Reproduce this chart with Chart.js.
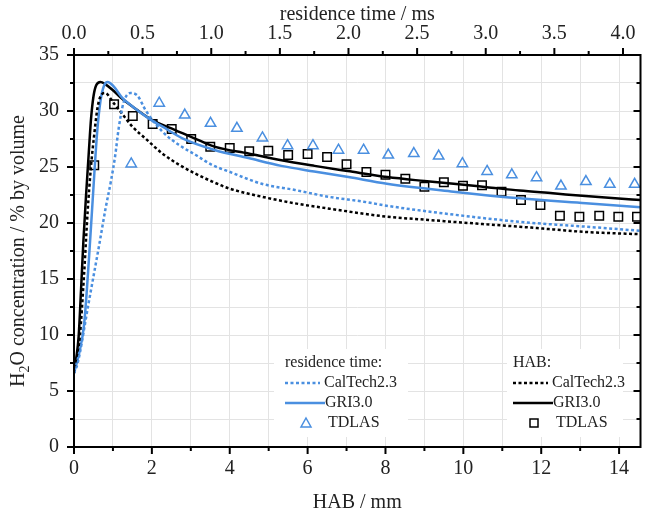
<!DOCTYPE html>
<html>
<head>
<meta charset="utf-8">
<script src="https://cdn.jsdelivr.net/npm/chart.js@4.4.1/dist/chart.umd.min.js"></script>
<style>
  html, body { margin: 0; padding: 0; background: #fff; }
</style>
</head>
<body>
<canvas id="grafico" width="648" height="515"></canvas>
<script>
// HAB axis (bottom, mm) and residence time axis (top, ms)
const habMax = 14.55;
const mmPerMs = 3.525;

// HAB: GRI3.0 (black solid)
const habGriX = [0, 0.06, 0.12, 0.18, 0.24, 0.31, 0.38, 0.44, 0.5, 0.57, 0.68, 0.8, 0.985, 1.2, 1.5, 2.0, 2.6, 3.2, 3.63, 4.48, 5.33, 6.18, 7.03, 8.05, 9.0, 9.75, 10.6, 11.44, 12.3, 13.14, 13.9, 14.55];
const habGriY = [6.7, 8.0, 9.9, 14.0, 18.3, 22.5, 26.3, 29.4, 31.3, 32.3, 32.6, 32.4, 31.9, 31.2, 30.4, 29.2, 28.3, 27.4, 26.8, 26.2, 25.6, 25.1, 24.64, 24.1, 23.75, 23.5, 23.2, 22.9, 22.65, 22.4, 22.2, 22.05];

// HAB: CalTech2.3 (black dashed)
const habCalX = [0, 0.08, 0.15, 0.26, 0.35, 0.43, 0.51, 0.6, 0.68, 0.8, 1.02, 1.27, 1.5, 1.85, 2.27, 2.7, 3.12, 3.55, 3.97, 4.82, 5.67, 6.52, 7.4, 8.05, 9.0, 9.75, 10.6, 11.44, 12.3, 13.14, 13.9, 14.55];
const habCalY = [6.6, 8.0, 9.85, 15.5, 21.0, 24.8, 27.6, 30.2, 31.3, 31.6, 30.7, 29.6, 28.6, 27.5, 26.2, 25.2, 24.4, 23.7, 23.1, 22.35, 21.76, 21.3, 20.85, 20.56, 20.3, 20.1, 19.88, 19.67, 19.43, 19.2, 19.08, 19.0];

// HAB: TDLAS (black squares)
const habTdlasX = [0.52, 1.03, 1.51, 2.02, 2.51, 3.01, 3.5, 4.0, 4.5, 4.99, 5.5, 6.0, 6.5, 7.0, 7.51, 8.0, 8.51, 9.0, 9.5, 9.99, 10.48, 10.98, 11.48, 11.98, 12.48, 12.98, 13.49, 13.98, 14.46];
const habTdlasY = [25.15, 30.6, 29.55, 28.84, 28.4, 27.5, 26.8, 26.7, 26.4, 26.45, 26.07, 26.16, 25.9, 25.24, 24.55, 24.3, 23.96, 23.24, 23.63, 23.33, 23.37, 22.8, 22.05, 21.6, 20.65, 20.56, 20.65, 20.56, 20.56];

// residence time: GRI3.0 (blue solid)
const rtGriX = [0, 0.04, 0.074, 0.11, 0.145, 0.168, 0.193, 0.22, 0.245, 0.289, 0.35, 0.405, 0.549, 0.645, 0.79, 1.03, 1.27, 1.51, 1.75, 2.0, 2.28, 2.765, 3.25, 3.73, 4.128];
const rtGriY = [6.6, 8.5, 11.0, 17.0, 23.8, 28.0, 30.9, 32.3, 32.6, 32.2, 31.2, 30.6, 29.3, 28.6, 27.56, 26.5, 25.8, 25.1, 24.6, 24.1, 23.5, 22.8, 22.2, 21.76, 21.4];

// residence time: CalTech2.3 (blue dashed)
const rtCalX = [0, 0.027, 0.1, 0.14, 0.183, 0.23, 0.27, 0.3, 0.325, 0.36, 0.41, 0.46, 0.525, 0.645, 0.766, 0.887, 1.006, 1.127, 1.368, 1.61, 1.85, 2.11, 2.3, 2.765, 3.25, 3.73, 4.128];
const rtCalY = [6.6, 7.5, 12.4, 15.1, 18.0, 21.3, 23.8, 26.0, 28.4, 30.7, 31.6, 31.4, 30.0, 28.15, 26.96, 26.07, 25.18, 24.6, 23.5, 22.95, 22.35, 21.9, 21.5, 20.75, 20.1, 19.67, 19.3];

// residence time: TDLAS (blue triangles)
const rtTdlasX = [0.417, 0.621, 0.807, 0.995, 1.187, 1.373, 1.556, 1.741, 1.927, 2.11, 2.29, 2.476, 2.657, 2.83, 3.01, 3.19, 3.37, 3.548, 3.73, 3.904, 4.085];
const rtTdlasY = [25.27, 30.7, 29.64, 28.9, 28.45, 27.6, 26.9, 26.9, 26.5, 26.5, 26.07, 26.2, 25.98, 25.3, 24.6, 24.3, 24.05, 23.3, 23.7, 23.45, 23.45];

const FONT = "'Liberation Serif', 'Times New Roman', serif";
const BLUE = '#4a8fe0';
const GRID = '#e3e3e3';

function pares(xs, ys) {
    return xs.map((x, i) => ({ x: x, y: ys[i] }));
}

function multiplo(v, passo) {
    const r = v / passo;
    return Math.abs(r - Math.round(r)) < 1e-6;
}

// ticks, frame, axis titles and legend
const decoracao = {
    id: 'decoracao',
    afterDraw(chart) {
        const ctx = chart.ctx;
        const a = chart.chartArea;
        const sx = chart.scales.x, sx2 = chart.scales.x2, sy = chart.scales.y;
        ctx.save();
        ctx.strokeStyle = '#000';
        ctx.lineWidth = 2;

        // bottom ticks (outward)
        for (let v = 0; v <= habMax; v += 1) {
            const px = sx.getPixelForValue(v);
            const len = (v % 2 === 0) ? 7 : 4;
            ctx.beginPath(); ctx.moveTo(px, a.bottom); ctx.lineTo(px, a.bottom + len); ctx.stroke();
        }
        // top ticks (outward)
        for (let i = 0; i * 0.25 <= sx2.max; i++) {
            const v = i * 0.25;
            const px = sx2.getPixelForValue(v);
            const len = (i % 2 === 0) ? 7 : 4;
            ctx.beginPath(); ctx.moveTo(px, a.top); ctx.lineTo(px, a.top - len); ctx.stroke();
        }
        // left ticks (outward) and right ticks (inward)
        for (let i = 0; i <= 14; i++) {
            const py = sy.getPixelForValue(i * 2.5);
            const len = (i % 2 === 0) ? 7 : 4;
            ctx.beginPath(); ctx.moveTo(a.left, py); ctx.lineTo(a.left - len, py); ctx.stroke();
            ctx.beginPath(); ctx.moveTo(a.right, py); ctx.lineTo(a.right - len, py); ctx.stroke();
        }
        // frame
        ctx.strokeRect(a.left, a.top, a.right - a.left, a.bottom - a.top);

        // axis titles
        ctx.fillStyle = '#222';
        ctx.textAlign = 'center';
        ctx.textBaseline = 'middle';
        ctx.font = '20px ' + FONT;
        const cx = (a.left + a.right) / 2;
        ctx.fillText('residence time / ms', cx, 15);
        ctx.fillText('HAB / mm', cx, 503);

        // y title with subscript
        ctx.save();
        ctx.translate(19, (a.top + a.bottom) / 2);
        ctx.rotate(-Math.PI / 2);
        ctx.textAlign = 'left';
        const big = '20px ' + FONT, small = '14px ' + FONT;
        ctx.font = big; const w1 = ctx.measureText('H').width;
        ctx.font = small; const w2 = ctx.measureText('2').width;
        ctx.font = big; const w3 = ctx.measureText('O concentration / % by volume').width;
        let tx = -(w1 + w2 + w3) / 2;
        ctx.font = big; ctx.fillText('H', tx, 0); tx += w1;
        ctx.font = small; ctx.fillText('2', tx, 6); tx += w2;
        ctx.font = big; ctx.fillText('O concentration / % by volume', tx, 0);
        ctx.restore();

        // legend
        ctx.fillStyle = '#fff';
        ctx.fillRect(274, 349, 134, 88);
        ctx.fillRect(507, 349, 116, 88);
        desenharLegenda(ctx, 285, 'residence time:', BLUE, 'triangle');
        desenharLegenda(ctx, 513, 'HAB:', '#000', 'rect');
        ctx.restore();
    }
};

function desenharLegenda(ctx, x0, cabecalho, cor, marcador) {
    ctx.font = '16px ' + FONT;
    ctx.fillStyle = '#222';
    ctx.textAlign = 'left';
    ctx.textBaseline = 'middle';
    ctx.fillText(cabecalho, x0, 363);

    ctx.strokeStyle = cor;
    ctx.lineWidth = 2.5;
    ctx.setLineDash([3, 2.5]);
    ctx.beginPath(); ctx.moveTo(x0, 383); ctx.lineTo(x0 + 35, 383); ctx.stroke();
    ctx.setLineDash([]);
    ctx.fillText('CalTech2.3', x0 + 39, 383);

    ctx.beginPath(); ctx.moveTo(x0, 403); ctx.lineTo(x0 + 40, 403); ctx.stroke();
    ctx.fillText('GRI3.0', x0 + 40, 403);

    ctx.lineWidth = 1.5;
    const mx = x0 + 21, my = 423;
    ctx.beginPath();
    if (marcador === 'triangle') {
        ctx.moveTo(mx, my - 5); ctx.lineTo(mx + 5, my + 4); ctx.lineTo(mx - 5, my + 4); ctx.closePath();
    } else {
        ctx.rect(mx - 4, my - 4, 8, 8);
    }
    ctx.stroke();
    ctx.fillText('TDLAS', x0 + 43, 423);
}

const linha = (dados, cor, eixo, tracejado) => ({
    data: dados,
    xAxisID: eixo,
    borderColor: cor,
    borderWidth: 2.5,
    borderDash: tracejado ? [3, 2.5] : [],
    pointRadius: 0,
    fill: false,
    tension: 0.4,
    cubicInterpolationMode: 'monotone'
});

const pontos = (dados, cor, eixo, estilo) => ({
    data: dados,
    xAxisID: eixo,
    showLine: false,
    pointStyle: estilo,
    pointRadius: 6,
    pointBorderWidth: 1.5,
    pointBorderColor: cor,
    pointBackgroundColor: 'rgba(255,255,255,0)',
    borderColor: cor
});

const eixoFonte = { family: FONT, size: 20 };

new Chart(document.getElementById('grafico').getContext('2d'), {
    type: 'line',
    data: {
        datasets: [
            linha(pares(rtCalX, rtCalY), BLUE, 'x2', true),
            linha(pares(habCalX, habCalY), '#000', 'x', true),
            linha(pares(rtGriX, rtGriY), BLUE, 'x2', false),
            linha(pares(habGriX, habGriY), '#000', 'x', false),
            pontos(pares(rtTdlasX, rtTdlasY), BLUE, 'x2', 'triangle'),
            pontos(pares(habTdlasX, habTdlasY), '#000', 'x', 'rect')
        ]
    },
    options: {
        responsive: false,
        animation: false,
        devicePixelRatio: 1,
        layout: { padding: { right: 3 } },
        plugins: { legend: { display: false }, tooltip: { enabled: false } },
        scales: {
            x: {
                type: 'linear', position: 'bottom', min: 0, max: habMax,
                afterFit: s => { s.height = 68; },
                border: { display: false },
                grid: { color: GRID, lineWidth: 1, drawTicks: false },
                ticks: {
                    stepSize: 1, autoSkip: false, includeBounds: false, maxRotation: 0,
                    padding: 10, color: '#222', font: eixoFonte,
                    callback: v => (v % 2 === 0 ? v : '')
                }
            },
            x2: {
                type: 'linear', position: 'top', min: 0, max: habMax / mmPerMs,
                afterFit: s => { s.height = 55; },
                border: { display: false },
                grid: { display: false, drawTicks: false },
                ticks: {
                    stepSize: 0.25, autoSkip: false, includeBounds: false, maxRotation: 0,
                    padding: 9, color: '#222', font: eixoFonte,
                    callback: v => (multiplo(v, 0.5) ? v.toFixed(1) : '')
                }
            },
            y: {
                min: 0, max: 35,
                afterFit: s => { s.width = 74; },
                border: { display: false },
                grid: { color: GRID, lineWidth: 1, drawTicks: false },
                ticks: {
                    stepSize: 2.5, autoSkip: false, padding: 15, color: '#222', font: eixoFonte,
                    callback: v => (v % 5 === 0 ? v : '')
                }
            }
        }
    },
    plugins: [decoracao]
});
</script>
</body>
</html>
